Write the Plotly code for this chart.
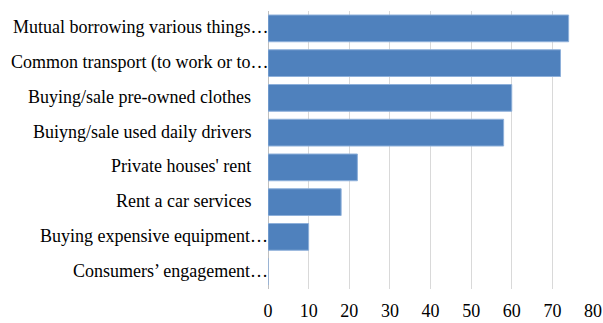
import plotly.graph_objects as go

categories = [
    "Mutual borrowing various things…",
    "Common transport (to work or to…",
    "Buying/sale pre-owned clothes",
    "Buiyng/sale used daily drivers",
    "Private houses' rent",
    "Rent a car services",
    "Buying expensive equipment…",
    "Consumers’ engagement…",
]
values = [74, 72, 60, 58, 22, 18, 10, 0]
x_ticks = [0, 10, 20, 30, 40, 50, 60, 70, 80]

FONT = "Liberation Serif, Times New Roman, serif"

fig = go.Figure(go.Bar(
    y=categories,
    x=values,
    orientation="h",
    marker=dict(color="#4F81BD", line=dict(color="#8EB0DA", width=1)),
    width=0.77,
))

annotations = []
for c in categories:
    truncated = c.endswith("…")
    annotations.append(dict(
        x=0, xref="paper", y=c, yref="y",
        text=c, showarrow=False, xanchor="right", yanchor="middle",
        xshift=2 if truncated else -15, yshift=1,
        font=dict(family=FONT, size=18, color="#000000"),
    ))

fig.update_layout(
    width=603, height=323,
    margin=dict(l=268, r=10, t=11, b=34),
    paper_bgcolor="white", plot_bgcolor="white",
    showlegend=False,
    annotations=annotations,
    xaxis=dict(
        range=[0, 80], tickvals=x_ticks, ticktext=[str(v) for v in x_ticks],
        showgrid=True, gridcolor="#D9D9D9", gridwidth=1,
        zeroline=True, zerolinecolor="#BFBFBF", zerolinewidth=1,
        showline=False, ticks="outside", ticklen=5, tickcolor="rgba(0,0,0,0)",
        tickfont=dict(family=FONT, size=18, color="#000000"),
        automargin=False,
        fixedrange=True,
    ),
    yaxis=dict(
        categoryorder="array", categoryarray=categories[::-1],
        showticklabels=False, showgrid=False, showline=False, ticks="",
        automargin=False,
        fixedrange=True,
    ),
)

fig.write_html("out.html")
